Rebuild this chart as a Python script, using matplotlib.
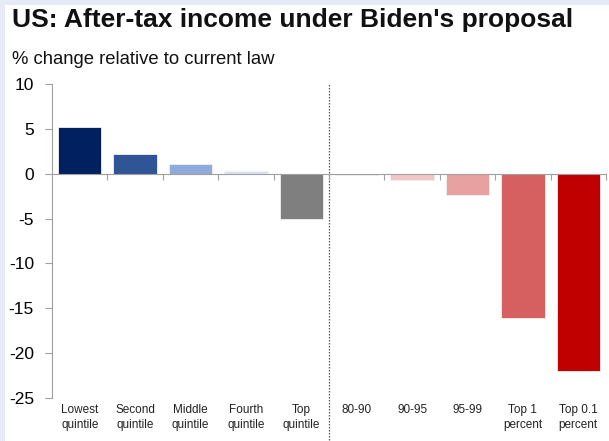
import matplotlib
matplotlib.use("Agg")
import matplotlib.pyplot as plt
from matplotlib.patches import Rectangle
import matplotlib.transforms as mtransforms

categories = ["Lowest\nquintile", "Second\nquintile", "Middle\nquintile", "Fourth\nquintile",
              "Top\nquintile", "80-90", "90-95", "95-99", "Top 1\npercent", "Top 0.1\npercent"]
values = [5.2, 2.2, 1.1, 0.35, -5.0, -0.1, -0.75, -2.4, -16.1, -22.0]
colors = ["#002060", "#2f5597", "#8faadc", "#dae3f3", "#7f7f7f",
          "#f4cccc", "#f2c6c6", "#e8a1a1", "#d65f5f", "#c00000"]
yticks = [10, 5, 0, -5, -10, -15, -20, -25]

plt.rcParams['font.family'] = ['Liberation Sans', 'DejaVu Sans']

fig = plt.figure(figsize=(6.09, 4.41), dpi=100)
fig.patch.set_facecolor("#e6eaf6")
fig.patches.append(Rectangle((5/609, 0), 1, 1 - 5/441, transform=fig.transFigure,
                             facecolor="white", edgecolor="none", zorder=-5))

ax = fig.add_axes([52/609, 1 - 398/441, (606 - 52)/609, (398 - 84)/441])
ax.set_zorder(2)
ax.set_facecolor("none")
x = list(range(len(categories)))
ax.bar(x, values, width=0.78, color=colors, edgecolor="#f0f0f0", linewidth=0.6, zorder=2)

ax.set_xlim(-0.5, len(categories) - 0.5)
ax.set_ylim(-25, 10)
ax.set_yticks(yticks)
ax.set_yticklabels([str(t) for t in yticks], fontsize=12.5)
ax.tick_params(axis='y', length=5, width=0.8, color="#a0a0a0", pad=8)

for s in ["top", "right"]:
    ax.spines[s].set_visible(False)
ax.spines["left"].set_color("#a0a0a0")
ax.spines["left"].set_linewidth(0.8)
ax.spines["bottom"].set_position(("data", 0))
ax.spines["bottom"].set_color("#a0a0a0")
ax.spines["bottom"].set_linewidth(0.8)
ax.spines["bottom"].set_zorder(3)

ax.set_xticks([i + 0.5 for i in x])
ax.set_xticklabels([])
ax.tick_params(axis='x', length=4, width=0.8, color="#a0a0a0", direction="out")

trans = mtransforms.blended_transform_factory(ax.transData, ax.transAxes)
for i, lab in enumerate(categories):
    ax.text(i, -0.02, lab, transform=trans, ha="center", va="top",
            fontsize=8.5, linespacing=1.25, color="#222222")

ax.axvline(4.5, ymin=-0.135, ymax=1.0, clip_on=False, color="#555555",
           linestyle=(0, (1.2, 1.2)), linewidth=0.9, zorder=1)

fig.text(12/609, 1 - 20/441, "US: After-tax income under Biden's proposal",
         fontsize=19, fontweight="bold", ha="left", va="center", color="#111111")
fig.text(12/609, 1 - 60/441, "% change relative to current law",
         fontsize=13.3, ha="left", va="center", color="#111111")

fig.savefig("out.png", dpi=100)
